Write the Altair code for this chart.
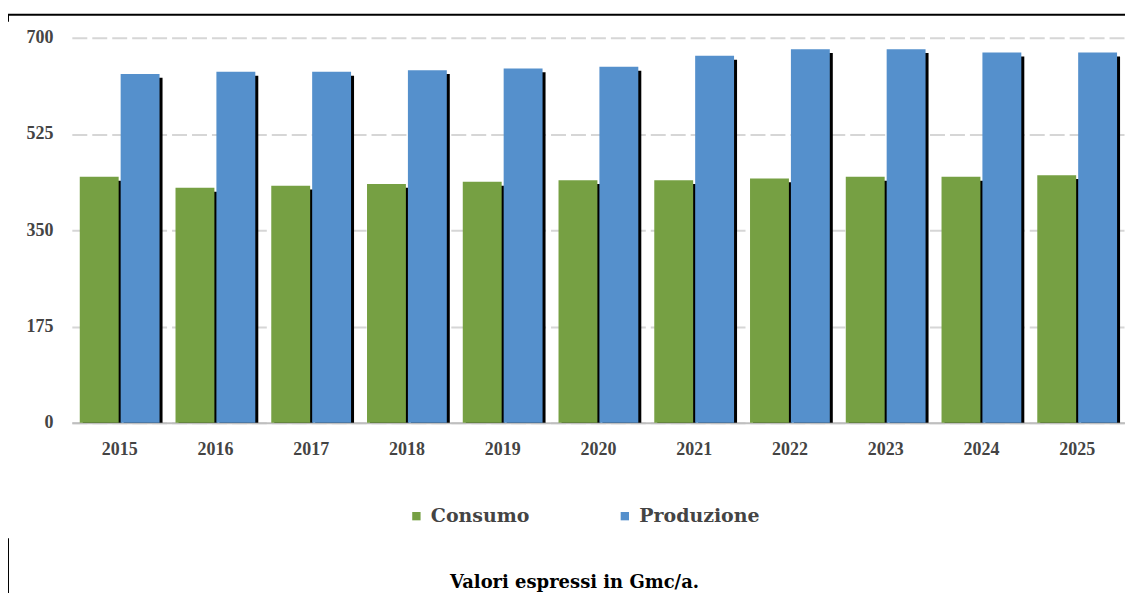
import altair as alt
import pandas as pd

years = ["2015", "2016", "2017", "2018", "2019", "2020", "2021", "2022", "2023", "2024", "2025"]
consumo = [447, 427, 431, 434, 438, 441, 441, 444, 447, 447, 450]
produzione = [634, 638, 638, 641, 644, 647, 667, 679, 679, 673, 673]
series = ["Consumo", "Produzione"]
colors = ["#76A043", "#5590CC"]
y_ticks = [0, 175, 350, 525, 700]
caption = "Valori espressi in Gmc/a."

rows = []
for i, yr in enumerate(years):
    rows.append({"anno": yr, "serie": series[0], "valore": consumo[i]})
    rows.append({"anno": yr, "serie": series[1], "valore": produzione[i]})
df = pd.DataFrame(rows)

FONT = "Liberation Serif"
LFONT = "DejaVu Serif"

x_enc = alt.X("anno:N", sort=years, title=None,
              scale=alt.Scale(paddingInner=0.167, paddingOuter=0.083),
              axis=alt.Axis(labelAngle=0, labelFont=FONT, labelFontWeight="bold",
                            labelFontSize=18, labelColor="#444444", labelPadding=18,
                            ticks=False, domain=True, domainColor="#BFBFBF",
                            domainWidth=2))
y_scale = alt.Scale(domain=[0, 700], nice=False)
y_axis = alt.Axis(values=y_ticks, labelFont=FONT, labelFontWeight="bold",
                  labelFontSize=18, labelColor="#444444", labelPadding=19,
                  ticks=False, domain=False, grid=True, gridColor="#D6D6D6",
                  gridDash=[15, 5], gridWidth=2)
y_enc = alt.Y("valore:Q", title=None, scale=y_scale, axis=y_axis)
ys_enc = alt.Y("ombra:Q", title=None, scale=y_scale, axis=y_axis)

color_enc = alt.Color("serie:N", sort=series,
                      scale=alt.Scale(domain=series, range=colors),
                      legend=alt.Legend(title=None, orient="none", direction="horizontal",
                                        legendX=336, legendY=470,
                                        symbolType="square", symbolSize=70,
                                        symbolStrokeWidth=0, symbolOffset=0,
                                        labelFont=LFONT, labelFontWeight="bold",
                                        labelFontSize=19, labelColor="#444444",
                                        labelOffset=5, columnPadding=86))

base = alt.Chart(df)
layers = []
offsets = {"Consumo": -20.5, "Produzione": 20.5}
for s in series:
    shadow = base.transform_filter(alt.datum.serie == s).transform_calculate(
        ombra="datum.valore - 7").mark_bar(
        color="black", width=39, xOffset=offsets[s] + 3).encode(x=x_enc, y=ys_enc)
    bar = base.transform_filter(alt.datum.serie == s).mark_bar(
        width=39, xOffset=offsets[s]).encode(x=x_enc, y=y_enc, color=color_enc)
    layers += [shadow, bar]

one = pd.DataFrame({"k": [0]})
top_line = alt.Chart(one).mark_rule(color="black", strokeWidth=2).encode(
    x=alt.value(-64), x2=alt.value(1061), y=alt.value(-23))
top_tick = alt.Chart(one).mark_rule(color="black", strokeWidth=2).encode(
    x=alt.value(-64), y=alt.value(-23), y2=alt.value(-16))
left_line = alt.Chart(one).mark_rule(color="black", strokeWidth=2).encode(
    x=alt.value(-64), y=alt.value(502), y2=alt.value(580))

cap = alt.Chart(pd.DataFrame({"testo": [caption]})).mark_text(
    font=LFONT, fontWeight="bold", fontSize=18, color="#000000",
    align="center", baseline="middle").encode(
    text="testo:N", x=alt.value(504), y=alt.value(547))

chart = alt.layer(*layers, top_line, top_tick, left_line, cap).properties(
    width=1056, height=386,
    padding={"left": 64, "top": 29, "right": 0, "bottom": 170},
    autosize=alt.AutoSizeParams(type="none"),
    background="white",
).configure_view(stroke=None)

chart.save("out.html", embed_options={"renderer": "svg", "actions": False})
